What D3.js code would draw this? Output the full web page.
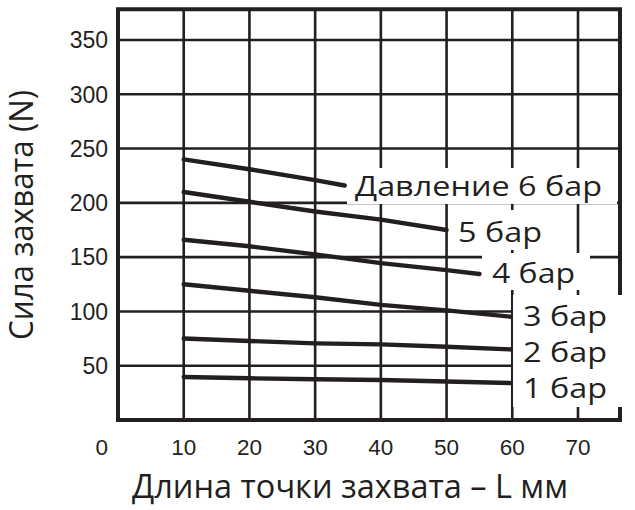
<!DOCTYPE html>
<html><head><meta charset="utf-8">
<script src="https://cdn.jsdelivr.net/npm/d3@7"></script>
<style>
html,body{margin:0;padding:0;background:#fff;}
svg{display:block;}
</style></head>
<body>
<svg id="c" width="635" height="510"></svg>
<script>
// ---- data ----
const xTicks = [10, 20, 30, 40, 50, 60, 70];
const yTicks = [50, 100, 150, 200, 250, 300, 350];
const seriesNames = ["Давление 6 бар", "5 бар", "4 бар", "3 бар", "2 бар", "1 бар"];
const s6x = [10, 20, 30, 34.5];
const s6y = [240, 231, 221, 216];
const s5x = [10, 20, 30, 40, 50];
const s5y = [210, 201, 192, 184.5, 175];
const s4x = [10, 20, 30, 40, 50, 55];
const s4y = [166, 160, 152.5, 144.5, 138, 134.5];
const s3x = [10, 20, 30, 40, 50, 60];
const s3y = [125, 119, 113, 106, 101, 95];
const s2x = [10, 20, 30, 40, 50, 60];
const s2y = [75, 72.8, 70.6, 69.7, 67.5, 65];
const s1x = [10, 20, 30, 40, 50, 60];
const s1y = [39.6, 38.4, 37.5, 36.8, 35.5, 34];
const xTitle = "Длина точки захвата – L мм";
const yTitle = "Сила захвата (N)";

// ---- layout ----
const ink = "#231f20";
const titleFont = "'Open Sans', 'Noto Sans', sans-serif";
const svg = d3.select("#c");
const x = d3.scaleLinear().domain([0, 70]).range([118, 578]);
const y = d3.scaleLinear().domain([0, 350]).range([420, 40]);
const xMax = x.invert(620), yMax = y.invert(9.2);

const series = [
  {name: seriesNames[0], xs: s6x, ys: s6y},
  {name: seriesNames[1], xs: s5x, ys: s5y},
  {name: seriesNames[2], xs: s4x, ys: s4y},
  {name: seriesNames[3], xs: s3x, ys: s3y},
  {name: seriesNames[4], xs: s2x, ys: s2y},
  {name: seriesNames[5], xs: s1x, ys: s1y}
];

// grid
const g = svg.append("g");
g.selectAll("line.vx").data(xTicks).join("line")
  .attr("x1", d => x(d)).attr("x2", d => x(d))
  .attr("y1", y(0)).attr("y2", y(yMax))
  .attr("stroke", ink).attr("stroke-width", 2.6);
g.selectAll("line.hy").data(yTicks).join("line")
  .attr("y1", d => y(d)).attr("y2", d => y(d))
  .attr("x1", x(0)).attr("x2", x(xMax))
  .attr("stroke", ink).attr("stroke-width", 2.6);

// series lines
const line = d3.line().x(d => x(d[0])).y(d => y(d[1]));
svg.append("g").selectAll("path").data(series).join("path")
  .attr("d", s => line(s.xs.map((v, i) => [v, s.ys[i]])))
  .attr("fill", "none").attr("stroke", ink)
  .attr("stroke-width", 4.4).attr("stroke-linecap", "round");

// frame
const frame = svg.append("g").attr("stroke", ink).attr("stroke-width", 4).attr("fill", "none");
frame.append("path").attr("d",
  `M${x(xMax)},${y(yMax)} L${x(0)},${y(yMax)} L${x(0)},${y(0)} L${x(xMax)},${y(0)}`)
  .attr("stroke-linecap", "square");
frame.append("line").attr("x1", x(xMax)).attr("x2", x(xMax)).attr("y1", y(yMax)).attr("y2", y(0));

// label boxes + text
const labelLayout = [
  {box: [347, 168, 270, 36], tx: 355, ty: 196, w: 247},
  {box: [449, 210, 106, 40], tx: 458, ty: 242, w: 84},
  {box: [482, 253, 108, 37], tx: 492, ty: 283, w: 83},
  {box: [513, 295, 112, 38], tx: 523, ty: 326, w: 84},
  {box: [513, 333, 112, 37], tx: 523, ty: 362, w: 84},
  {box: [513, 370, 112, 37], tx: 523, ty: 398, w: 84}
];
const lg = svg.append("g");
series.forEach((s, i) => {
  const L = labelLayout[i];
  lg.append("rect").attr("x", L.box[0]).attr("y", L.box[1])
    .attr("width", L.box[2]).attr("height", L.box[3]).attr("fill", "#fff");
});
series.forEach((s, i) => {
  const L = labelLayout[i];
  lg.append("text").attr("x", L.tx).attr("y", L.ty)
    .attr("font-family", titleFont)
    .attr("font-size", 28).attr("fill", ink)
    .attr("textLength", L.w).attr("lengthAdjust", "spacingAndGlyphs")
    .text(s.name);
});

// tick labels
const tickFont = "'Liberation Sans', Arial, sans-serif";
svg.append("g").selectAll("text").data(yTicks).join("text")
  .attr("x", 108).attr("y", d => y(d)).attr("dy", "0.36em")
  .attr("text-anchor", "end").attr("font-family", tickFont)
  .attr("font-size", 23).attr("fill", ink).text(d => d);
svg.append("g").selectAll("text").data([0].concat(xTicks)).join("text")
  .attr("x", d => d === 0 ? 108 : x(d)).attr("y", 455)
  .attr("text-anchor", d => d === 0 ? "end" : "middle").attr("font-family", tickFont)
  .attr("font-size", 22.5).attr("fill", ink).text(d => d);

// axis titles
svg.append("text").attr("x", 132).attr("y", 498)
  .attr("font-family", titleFont)
  .attr("font-size", 32).attr("fill", ink)
  .attr("textLength", 436).attr("lengthAdjust", "spacingAndGlyphs")
  .text(xTitle);
svg.append("text").attr("transform", "translate(33,340) rotate(-90)")
  .attr("font-family", titleFont)
  .attr("font-size", 32).attr("fill", ink)
  .attr("textLength", 250).attr("lengthAdjust", "spacingAndGlyphs")
  .text(yTitle);
</script>
</body></html>
